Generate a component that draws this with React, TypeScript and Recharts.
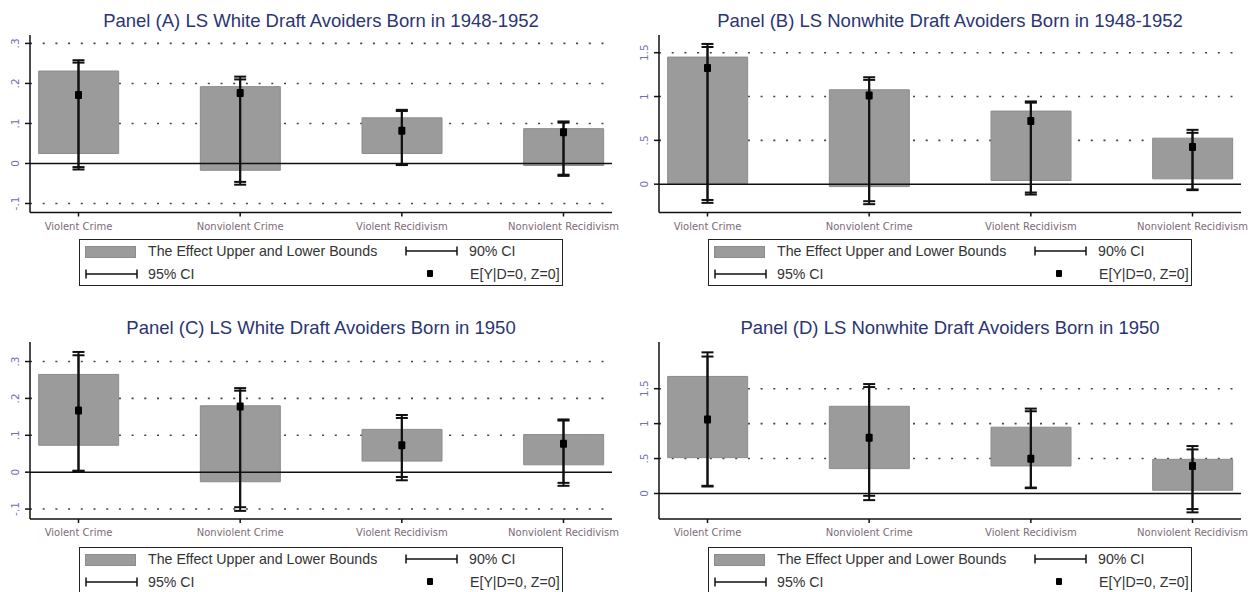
import React from 'react';
import {
  ComposedChart,
  Bar,
  Scatter,
  ErrorBar,
  XAxis,
  YAxis,
  CartesianGrid,
  ReferenceLine,
} from 'recharts';

const CATEGORIES = ['Violent Crime', 'Nonviolent Crime', 'Violent Recidivism', 'Nonviolent Recidivism'];

// Panel (A) white, 1948-1952
const A_LOWER = [0.025, -0.017, 0.025, -0.005];
const A_UPPER = [0.231, 0.192, 0.114, 0.087];
const A_MEAN = [0.171, 0.176, 0.082, 0.078];
const A_LO95 = [-0.015, -0.053, -0.004, -0.031];
const A_HI95 = [0.258, 0.217, 0.134, 0.105];
const A_LO90 = [-0.009, -0.046, -0.002, -0.028];
const A_HI90 = [0.252, 0.21, 0.131, 0.102];
const A_TICKS = [-0.1, 0, 0.1, 0.2, 0.3];

// Panel (B) nonwhite, 1948-1952
const B_LOWER = [0.01, -0.027, 0.042, 0.061];
const B_UPPER = [1.45, 1.077, 0.834, 0.525];
const B_MEAN = [1.325, 1.013, 0.72, 0.423];
const B_LO95 = [-0.213, -0.228, -0.118, -0.068];
const B_HI95 = [1.6, 1.22, 0.944, 0.62];
const B_LO90 = [-0.18, -0.194, -0.095, -0.06];
const B_HI90 = [1.565, 1.19, 0.93, 0.586];
const B_TICKS = [0, 0.5, 1, 1.5];

// Panel (C) white, 1950
const C_LOWER = [0.073, -0.026, 0.03, 0.02];
const C_UPPER = [0.265, 0.18, 0.116, 0.102];
const C_MEAN = [0.167, 0.178, 0.073, 0.077];
const C_LO95 = [0.003, -0.105, -0.022, -0.037];
const C_HI95 = [0.326, 0.228, 0.155, 0.143];
const C_LO90 = [0.004, -0.095, -0.013, -0.029];
const C_HI90 = [0.317, 0.221, 0.147, 0.14];
const C_TICKS = [-0.1, 0, 0.1, 0.2, 0.3];

// Panel (D) nonwhite, 1950
const D_LOWER = [0.513, 0.356, 0.394, 0.047];
const D_UPPER = [1.675, 1.248, 0.949, 0.489];
const D_MEAN = [1.058, 0.797, 0.498, 0.394];
const D_LO95 = [0.1, -0.095, 0.076, -0.27];
const D_HI95 = [2.02, 1.566, 1.215, 0.679];
const D_LO90 = [0.11, -0.033, 0.085, -0.223];
const D_HI90 = [1.96, 1.523, 1.177, 0.631];
const D_TICKS = [0, 0.5, 1, 1.5];

const TITLE_COLOR = '#2b3572';
const BAR_FILL = '#9b9b9b';

function buildRows(lower, upper, mean, lo95, hi95, lo90, hi90) {
  return CATEGORIES.map((name, i) => ({
    name,
    pos: i,
    bounds: [lower[i], upper[i]],
    mean: mean[i],
    ci95: [mean[i] - lo95[i], hi95[i] - mean[i]],
    ci90: [mean[i] - lo90[i], hi90[i] - mean[i]],
  }));
}

// stata style: .3, -.1, 1.5
function stataFmt(v: number) {
  const s = String(+v.toFixed(2));
  return s.replace(/^(-?)0\./, '$1.');
}

function RotatedTick(props: any) {
  const { x, y, payload } = props;
  return (
    <text
      x={x}
      y={y}
      transform={`rotate(-90 ${x} ${y})`}
      textAnchor="middle"
      fontSize={10.5}
      fill="#7070b4"
      fontFamily="DejaVu Sans"
    >
      {stataFmt(payload.value)}
    </text>
  );
}

function SquareDot(props: any) {
  const { cx, cy } = props;
  return <rect x={cx - 3.5} y={cy - 4} width={7} height={8} rx={1} fill="#000" />;
}

function CapLine({ x, y }: { x: number; y: number }) {
  return (
    <svg style={{ position: 'absolute', left: x, top: y - 6 }} width={54} height={12}>
      <line x1={1} y1={6} x2={52} y2={6} stroke="#111" strokeWidth={1.5} />
      <line x1={1} y1={1.5} x2={1} y2={10.5} stroke="#111" strokeWidth={1.5} />
      <line x1={52} y1={1.5} x2={52} y2={10.5} stroke="#111" strokeWidth={1.5} />
    </svg>
  );
}

function LegendBox({ left, top }: { left: number; top: number }) {
  const text: React.CSSProperties = {
    position: 'absolute',
    fontSize: 14.2,
    color: '#333',
    lineHeight: '16px',
    whiteSpace: 'nowrap',
  };
  return (
    <div
      style={{
        position: 'absolute',
        left,
        top,
        width: 484,
        height: 47,
        border: '1.5px solid #222',
        boxSizing: 'border-box',
      }}
    >
      <div
        style={{
          position: 'absolute',
          left: 5,
          top: 6,
          width: 49,
          height: 10,
          background: BAR_FILL,
          border: '1px solid #8c8c8c',
        }}
      />
      <div style={{ ...text, left: 68, top: 3 }}>The Effect Upper and Lower Bounds</div>
      <CapLine x={325} y={11} />
      <div style={{ ...text, left: 389, top: 3 }}>90% CI</div>
      <CapLine x={5} y={34} />
      <div style={{ ...text, left: 68, top: 26 }}>95% CI</div>
      <div style={{ position: 'absolute', left: 347, top: 30, width: 6, height: 7, background: '#000', borderRadius: 1 }} />
      <div style={{ ...text, left: 390, top: 26 }}>E[Y|D=0, Z=0]</div>
    </div>
  );
}

interface PanelProps {
  left: number;
  top: number;
  height: number;
  title: string;
  rows: any[];
  domain: [number, number];
  ticks: number[];
  axisX: number;
  plotTop: number;
  plotBottom: number;
  titleY: number;
  legendTop: number;
}

function Panel({ left, top, height, title, rows, domain, ticks, axisX, plotTop, plotBottom, titleY, legendTop }: PanelProps) {
  const W = 625;
  const plotW = 582;
  const xAxisH = 24;
  return (
    <div style={{ position: 'absolute', left, top, width: W, height }}>
      <div
        style={{
          position: 'absolute',
          left: axisX,
          width: plotW,
          top: titleY - 11,
          lineHeight: '22px',
          textAlign: 'center',
          fontSize: 18.5,
          color: TITLE_COLOR,
          whiteSpace: 'nowrap',
        }}
      >
        {title}
      </div>
      <ComposedChart
        width={W}
        height={height}
        data={rows}
        margin={{ top: plotTop, right: W - axisX - plotW, left: axisX - 30, bottom: height - plotBottom - xAxisH }}
      >
        <CartesianGrid
          vertical={false}
          horizontalValues={ticks.filter((t) => t !== 0)}
          strokeDasharray="2 10.7"
          stroke="#444"
          strokeWidth={1.6}
        />
        <XAxis
          type="number"
          dataKey="pos"
          domain={[-0.3, 3.3]}
          ticks={[0, 1, 2, 3]}
          interval={0}
          tickFormatter={(i) => CATEGORIES[i]}
          height={xAxisH}
          tickSize={4}
          tickMargin={6}
          axisLine={{ stroke: '#111', strokeWidth: 1.5 }}
          tickLine={{ stroke: '#111', strokeWidth: 1.5 }}
          tick={{ fontSize: 10, fill: '#7d6a78', fontFamily: 'DejaVu Sans' }}
        />
        <YAxis
          type="number"
          domain={domain}
          ticks={ticks}
          allowDataOverflow
          width={30}
          tickSize={5}
          tickMargin={6}
          axisLine={{ stroke: '#111', strokeWidth: 1.5 }}
          tickLine={{ stroke: '#111', strokeWidth: 1.5 }}
          tick={<RotatedTick />}
        />
        <Bar dataKey="bounds" barSize={80} fill={BAR_FILL} stroke="#8c8c8c" isAnimationActive={false} />
        <ReferenceLine y={0} stroke="#111" strokeWidth={1.5} />
        <Scatter dataKey="mean" isAnimationActive={false} shape={<SquareDot />}>
          <ErrorBar dataKey="ci95" direction="y" width={6} stroke="#111" strokeWidth={2} />
          <ErrorBar dataKey="ci90" direction="y" width={6} stroke="#111" strokeWidth={2} />
        </Scatter>
      </ComposedChart>
      <LegendBox left={axisX + 49} top={legendTop} />
    </div>
  );
}

export default function App() {
  const rowsA = buildRows(A_LOWER, A_UPPER, A_MEAN, A_LO95, A_HI95, A_LO90, A_HI90);
  const rowsB = buildRows(B_LOWER, B_UPPER, B_MEAN, B_LO95, B_HI95, B_LO90, B_HI90);
  const rowsC = buildRows(C_LOWER, C_UPPER, C_MEAN, C_LO95, C_HI95, C_LO90, C_HI90);
  const rowsD = buildRows(D_LOWER, D_UPPER, D_MEAN, D_LO95, D_HI95, D_LO90, D_HI90);

  return (
    <div
      style={{
        position: 'absolute',
        left: 0,
        top: 0,
        width: 1250,
        height: 592,
        overflow: 'hidden',
        background: '#fff',
        fontFamily: '"Liberation Sans", Arial, sans-serif',
      }}
    >
      <Panel
        left={0}
        top={0}
        height={296}
        title="Panel (A) LS White Draft Avoiders Born in 1948-1952"
        rows={rowsA}
        domain={[-0.1225, 0.321]}
        ticks={A_TICKS}
        axisX={30}
        plotTop={35}
        plotBottom={212.5}
        titleY={21}
        legendTop={239}
      />
      <Panel
        left={625}
        top={0}
        height={296}
        title="Panel (B) LS Nonwhite Draft Avoiders Born in 1948-1952"
        rows={rowsB}
        domain={[-0.323, 1.702]}
        ticks={B_TICKS}
        axisX={34}
        plotTop={35}
        plotBottom={212.5}
        titleY={21}
        legendTop={239}
      />
      <Panel
        left={0}
        top={300}
        height={292}
        title="Panel (C) LS White Draft Avoiders Born in 1950"
        rows={rowsC}
        domain={[-0.127, 0.353]}
        ticks={C_TICKS}
        axisX={30}
        plotTop={42}
        plotBottom={219}
        titleY={28}
        legendTop={247}
      />
      <Panel
        left={625}
        top={300}
        height={292}
        title="Panel (D) LS Nonwhite Draft Avoiders Born in 1950"
        rows={rowsD}
        domain={[-0.365, 2.168]}
        ticks={D_TICKS}
        axisX={34}
        plotTop={42}
        plotBottom={219}
        titleY={28}
        legendTop={247}
      />
    </div>
  );
}
